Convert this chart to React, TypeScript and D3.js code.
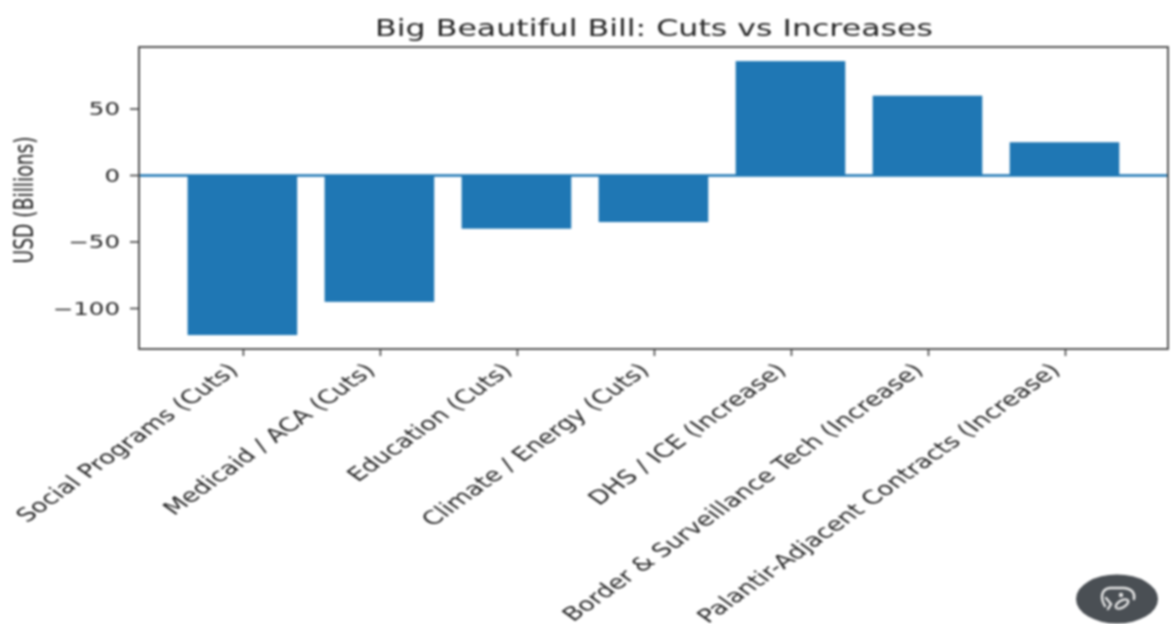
import React from 'react';
import * as d3 from 'd3';

const categories = [
  'Social Programs (Cuts)',
  'Medicaid / ACA (Cuts)',
  'Education (Cuts)',
  'Climate / Energy (Cuts)',
  'DHS / ICE (Increase)',
  'Border & Surveillance Tech (Increase)',
  'Palantir-Adjacent Contracts (Increase)',
];
const values = [-120, -95, -40, -35, 86, 60, 25];
const yTicks = [-100, -50, 0, 50];

const width = 1175;
const height = 624;
const margin = { top: 47, right: 7, bottom: 275, left: 139 };
const font = '"DejaVu Sans", sans-serif';
const ink = '#262626';
// the reference image is stretched sideways, so the text is too
const stretch = 1.4;

const App = () => {
  const x = d3
    .scaleBand<string>()
    .domain(categories)
    .range([173.9, 1133])
    .paddingInner(0.2)
    .paddingOuter(0.1);
  const y = d3.scaleLinear().domain([-100, 50]).range([308.5, 109]);

  return (
    <svg
      width={width}
      height={height}
      style={{ position: 'absolute', left: 0, top: 0, filter: 'blur(0.9px)' }}
      fontFamily={font}
    >
      <rect width={width} height={height} fill='#fff' />
      <text
        transform={`translate(654,36) scale(${stretch},1)`}
        textAnchor='middle'
        fontSize={22.6}
        fill={ink}
      >
        Big Beautiful Bill: Cuts vs Increases
      </text>
      {categories.map((c, i) => {
        const v = values[i];
        return (
          <rect
            key={c}
            x={x(c)}
            y={y(Math.max(v, 0))}
            width={x.bandwidth()}
            height={Math.abs(y(v) - y(0))}
            fill='#1f77b4'
          />
        );
      })}
      <line x1={margin.left} x2={width - margin.right} y1={y(0)} y2={y(0)} stroke='#1f77b4' strokeWidth={2.5} />
      <rect
        x={margin.left}
        y={margin.top}
        width={width - margin.left - margin.right}
        height={height - margin.top - margin.bottom}
        fill='none'
        stroke='#444'
        strokeWidth={1.8}
      />
      {yTicks.map((t) => (
        <g key={t}>
          <line x1={margin.left - 9} x2={margin.left} y1={y(t)} y2={y(t)} stroke='#444' strokeWidth={1.6} />
          <text
            transform={`translate(${margin.left - 19},${y(t)}) scale(${stretch},1)`}
            dy='0.36em'
            textAnchor='end'
            fontSize={17.5}
            fill={ink}
          >
            {t < 0 ? `\u2212${-t}` : t}
          </text>
        </g>
      ))}
      <text
        transform={`translate(24,200) scale(${stretch},1) rotate(-90)`}
        textAnchor='middle'
        dy='0.36em'
        fontSize={18.7}
        fill={ink}
      >
        USD (Billions)
      </text>
      {categories.map((c) => {
        const cx = x(c)! + x.bandwidth() / 2;
        return (
          <g key={c}>
            <line x1={cx + 1} x2={cx + 1} y1={349} y2={356} stroke='#444' strokeWidth={1.6} />
            <text
              transform={`translate(${cx - 16},362) scale(${stretch},1) rotate(-45)`}
              textAnchor='end'
              dy='0.7em'
              fontSize={18.9}
              fill={ink}
            >
              {c}
            </text>
          </g>
        );
      })}
      <ellipse cx={1117} cy={599} rx={41} ry={24.5} fill='#4a4f54' />
      <g fill='none' stroke='#e8e8e8' strokeWidth={2.4} strokeLinecap='round'>
        <path d='M1105 606 C1100 598 1101 589 1110 588 L1124 588 C1133 589 1135 594 1134 599' />
        <path d='M1106 598 L1111 604 L1108 609' />
        <ellipse cx={1122} cy={604} rx={7} ry={3.5} transform='rotate(-30 1122 604)' />
        <circle cx={1121} cy={595} r={1} />
      </g>
    </svg>
  );
};

export default App;
